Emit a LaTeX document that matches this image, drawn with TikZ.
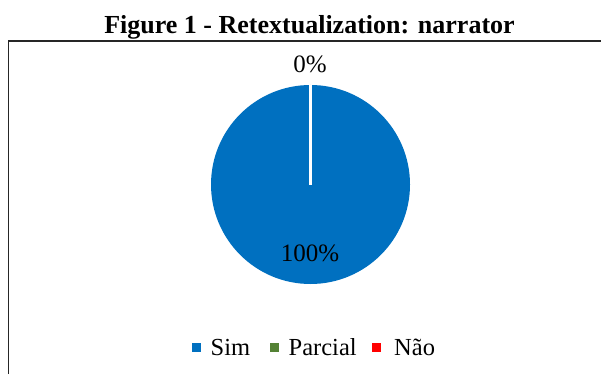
\documentclass[tikz,border=0pt]{standalone}
\usepackage{fontspec}
\setmainfont{Liberation Serif}
\definecolor{simblue}{RGB}{0,112,192}
\definecolor{parcialgreen}{RGB}{84,130,53}
\definecolor{naored}{RGB}{255,0,0}
\begin{document}
\begin{tikzpicture}[x=1pt,y=-1pt,
  frameline/.style={draw=black!85,line width=1.6pt},
  pctlabel/.style={anchor=base,inner sep=0pt,font=\fontsize{25}{28}\selectfont},
  legtext/.style={anchor=base west,inner sep=0pt,font=\fontsize{24.5}{28}\selectfont},
  legkey/.style={minimum size=9pt,inner sep=0pt,anchor=center}]
  \useasboundingbox (0,0) rectangle (601,374);
  % caption above the chart frame
  \node[anchor=base,inner sep=0pt,font=\bfseries\fontsize{26}{30}\selectfont] (title) at (309.5,34) {Figure 1 - Retextualization: narrator};
  % chart frame (top and left edges visible)
  \coordinate (ftl) at (8.5,41);
  \coordinate (ftr) at (601,41);
  \coordinate (fbl) at (8.5,374);
  \draw[frameline] (fbl) -- (ftl) -- (ftr);
  % pie: a single full slice
  \coordinate (pc) at (310.5,184.5);
  \coordinate (ptop) at (310.5,85);
  \fill[simblue] (pc) circle[radius=99.5];
  \draw[white,line width=3pt] (pc) -- (ptop);
  % data labels
  \node[pctlabel] (lzero) at (310,72.5) {0\%};
  \node[pctlabel] (lfull) at (310,261.5) {100\%};
  % legend
  \node[legkey,fill=simblue] (ksim) at (196.2,347.2) {};
  \node[legtext] (tsim) at (210.5,355) {Sim};
  \node[legkey,fill=parcialgreen] (kpar) at (274.7,347.2) {};
  \node[legtext] (tpar) at (288.5,355) {Parcial};
  \node[legkey,fill=naored] (knao) at (376.2,347.2) {};
  \node[legtext] (tnao) at (394,355) {Não};
\end{tikzpicture}
\end{document}
